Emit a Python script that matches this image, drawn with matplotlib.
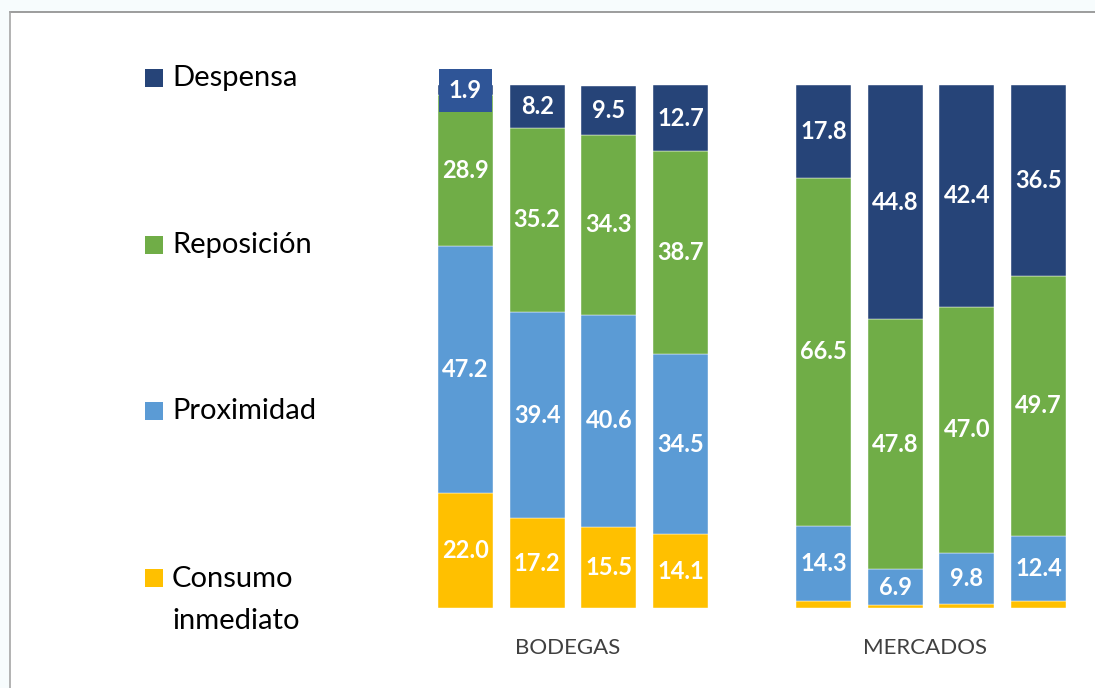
import matplotlib.pyplot as plt
import matplotlib.patches as patches
import numpy as np

plt.rcParams['font.family'] = ['Lato', 'DejaVu Sans']

# Datos (%)
posiciones = [0, 1, 2, 3, 5, 6, 7, 8]
consumo = [22.0, 17.2, 15.5, 14.1, 1.4, 0.5, 0.8, 1.4]
proximidad = [47.2, 39.4, 40.6, 34.5, 14.3, 6.9, 9.8, 12.4]
reposicion = [28.9, 35.2, 34.3, 38.7, 66.5, 47.8, 47.0, 49.7]
despensa = [1.9, 8.2, 9.5, 12.7, 17.8, 44.8, 42.4, 36.5]
grupos = ['BODEGAS', 'MERCADOS']
grupo_x = [1.42, 6.42]

series = [
    ('Consumo\ninmediato', consumo, '#FFC000'),
    ('Proximidad', proximidad, '#5B9BD5'),
    ('Reposición', reposicion, '#70AD47'),
    ('Despensa', despensa, '#264478'),
]

fig = plt.figure(figsize=(10.95, 6.88), dpi=100)
fig.patch.set_facecolor('#F7FCFD')

# Marco blanco del gráfico
W, H = 1095, 688
fig.patches.append(patches.Rectangle((10 / W, 0), 1, 1 - 12 / H, transform=fig.transFigure,
                                     facecolor='white', edgecolor='none', zorder=-5))
fig.add_artist(plt.Line2D([10 / W, 1], [1 - 12 / H, 1 - 12 / H], color='#8C8C8C', lw=1.2))
fig.add_artist(plt.Line2D([10 / W, 10 / W], [0, 1 - 12 / H], color='#A6A6A6', lw=1.2))

ax = fig.add_axes([400 / W, 80 / H, 695 / W, 523 / H], zorder=2)
ax.set_facecolor('none')
ax.set_xlim(-0.915, 8.79)
ax.set_ylim(0, 100)
ax.axis('off')

bottom = np.zeros(len(posiciones))
for nombre, vals, color in series:
    vals = np.array(vals)
    ax.bar(posiciones, vals, bottom=bottom, width=0.77, color=color,
           edgecolor='white', linewidth=0.3)
    for x, v, b in zip(posiciones, vals, bottom):
        if nombre.startswith('Consumo') and x >= 5:
            continue
        y = b + v / 2
        if v < 3:
            # etiqueta desplazada con recuadro
            ax.text(x, 99.0, f'{v:.1f}', ha='center', va='center', color='white',
                    fontsize=17, fontweight='bold',
                    bbox=dict(boxstyle='square,pad=0.42', facecolor='#2F5597',
                              edgecolor='none'))
            continue
        ax.text(x, y, f'{v:.1f}', ha='center', va='center', color='white',
                fontsize=17, fontweight='bold')
    bottom += vals

for g, gx in zip(grupos, grupo_x):
    ax.text(gx, -7.6, g, ha='center', va='center', color='#404040', fontsize=16)

# Leyenda manual
leyenda_y = [78, 245, 411, 578]
for (nombre, _, color), ly in zip(series[::-1], leyenda_y):
    fig.patches.append(patches.Rectangle((145 / W, 1 - (ly + 9) / H), 18 / W, 18 / H,
                                         transform=fig.transFigure, facecolor=color,
                                         edgecolor='none'))
    if '\n' in nombre:
        fig.text(172 / W, 1 - (ly + 22) / H, nombre, ha='left', va='center',
                 fontsize=21, color='black', linespacing=1.75)
    else:
        fig.text(172 / W, 1 - ly / H, nombre, ha='left', va='center',
                 fontsize=21, color='black')

fig.savefig('out.png', dpi=100, facecolor=fig.get_facecolor())
